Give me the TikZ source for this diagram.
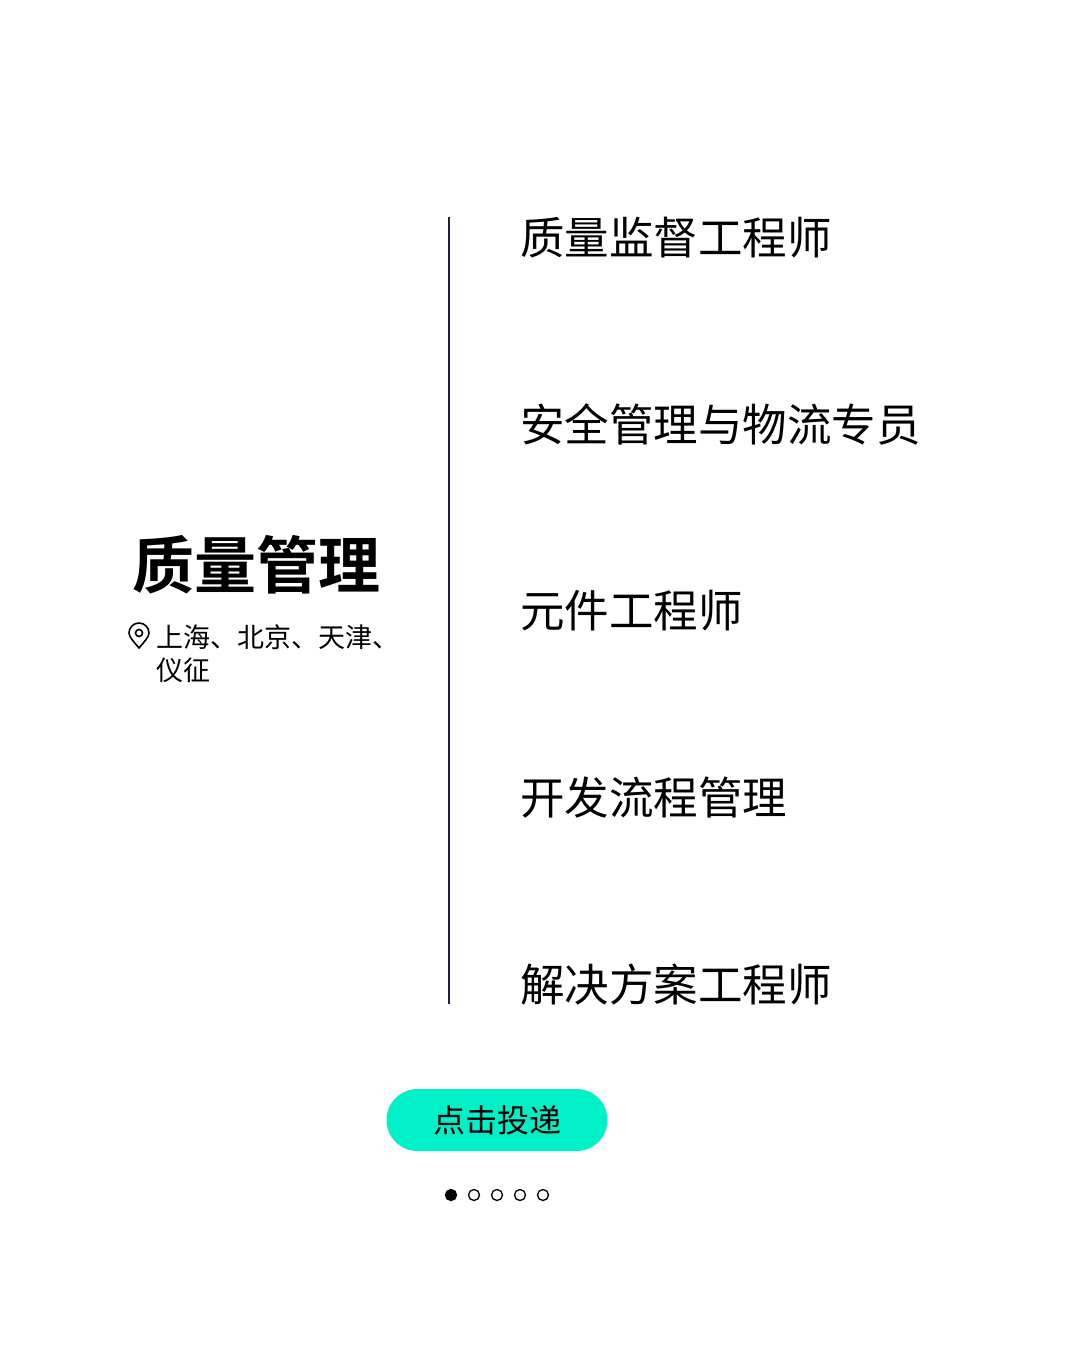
\documentclass[tikz,border=0pt]{standalone}
\usepackage{fontspec}
\newfontfamily\cjk{Noto Sans CJK SC}
\newfontfamily\cjkb{Noto Sans CJK SC Bold}
\definecolor{navy}{HTML}{1E1E3C}
\definecolor{teal}{HTML}{00F0C8}
\begin{document}
\begin{tikzpicture}[x=1pt,y=-1pt,
  job/.style={anchor=west,font=\cjk\fontsize{44.5}{48}\selectfont,inner sep=0},
  dot/.style={circle,draw=black,line width=1.3pt,minimum size=11pt,inner sep=0}]
\useasboundingbox (0,0) rectangle (1080,1346);
\coordinate (lt) at (449,217); \coordinate (lb) at (449,1004);
\draw[navy,line width=2.5pt] (lt) -- (lb);
\node[job] (j1) at (520,238) {质量监督工程师};
\node[job] (j2) at (520,424) {安全管理与物流专员};
\node[job] (j3) at (520,611) {元件工程师};
\node[job] (j4) at (520,798) {开发流程管理};
\node[job] (j5) at (520,985) {解决方案工程师};
\node[font=\cjkb\fontsize{62}{66}\selectfont,inner sep=0] (t) at (256,565) {质量管理};
\node[anchor=west,font=\cjk\fontsize{27}{33}\selectfont,inner sep=0,align=left] (loc) at (156,654) {上海、北京、天津、\\仪征};
\draw[line width=1.6pt] (139,648) .. controls (134,642) and (129,637) .. (129,633)
  arc[start angle=180,end angle=360,radius=10] .. controls (149,637) and (144,642) .. (139,648) -- cycle;
\draw[line width=1.6pt] (139,633) circle[radius=3.5];
\node[fill=teal,rounded corners=31pt,minimum width=221pt,minimum height=62pt,font=\cjk\fontsize{32}{34}\selectfont] (btn) at (497,1120) {点击投递};
\node[dot,fill=black] (d1) at (451,1195) {};
\node[dot] (d2) at (474,1195) {};
\node[dot] (d3) at (497,1195) {};
\node[dot] (d4) at (520,1195) {};
\node[dot] (d5) at (543,1195) {};
\end{tikzpicture}
\end{document}
